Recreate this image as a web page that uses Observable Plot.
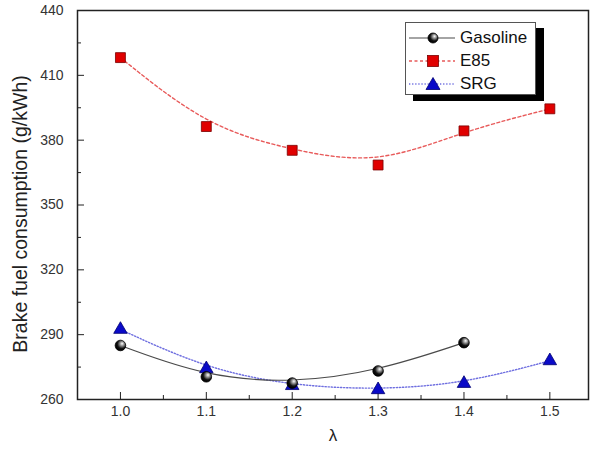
<!DOCTYPE html>
<html>
<head>
<meta charset="utf-8">
<script src="https://cdn.jsdelivr.net/npm/d3@7"></script>
<script src="https://cdn.jsdelivr.net/npm/@observablehq/plot@0.6"></script>
<style>
  html, body { margin: 0; padding: 0; background: #fff; }
  #wrap { position: relative; width: 591px; height: 453px; font-family: "Liberation Sans", Arial, sans-serif; }
  #legend {
    position: absolute; left: 405px; top: 22px; width: 129px; height: 71px;
    background: #fff; border: 1px solid #555; box-shadow: 8px 6px 0 #000;
  }
  .row { display: flex; align-items: center; height: 23px; margin-left: 3px; }
  .row:first-child { margin-top: 3px; }
  .row span { font-size: 17px; color: #111; margin-left: 3px; }
</style>
</head>
<body>
<div id="wrap">
  <div id="chart"></div>
  <div id="legend"></div>
</div>
<script>
// Brake fuel consumption vs. excess air ratio (lambda)
const lambda = [1.0, 1.1, 1.2, 1.3, 1.4, 1.5];
const gasoline = [285.0, 270.5, 267.6, 273.2, 286.3];
const e85 = [418.2, 386.3, 375.3, 368.5, 384.3, 394.5];
const srg = [292.4, 274.2, 266.4, 264.5, 267.4, 277.9];

const seriesNames = ["Gasoline", "E85", "SRG"];
const xMajor = [1.0, 1.1, 1.2, 1.3, 1.4, 1.5];
const xMinor = [1.05, 1.15, 1.25, 1.35, 1.45];
const yMajor = [260, 290, 320, 350, 380, 410, 440];
const yMinor = [275, 305, 335, 365, 395, 425];

const rows = (name, values) => values.map((v, i) => ({series: name, x: lambda[i], y: v}));
const gasRows = rows("Gasoline", gasoline);
const e85Rows = rows("E85", e85);
const srgRows = rows("SRG", srg);

const font = "Liberation Sans, Arial, sans-serif";

const chart = Plot.plot({
  width: 591,
  height: 453,
  marginLeft: 77,
  marginRight: 3,
  marginTop: 10,
  marginBottom: 54,
  style: {fontFamily: font, background: "#fff", overflow: "visible"},
  x: {domain: [0.95, 1.545]},
  y: {domain: [260, 440]},
  marks: [
    // inward major/minor ticks
    Plot.axisX({ticks: xMajor, tickSize: -7, text: null, label: null, stroke: "#222"}),
    Plot.axisX({ticks: xMinor, tickSize: -4, text: null, label: null, stroke: "#222"}),
    Plot.axisX({ticks: xMajor, tickSize: 0, tickPadding: 7, tickFormat: d3.format(".1f"),
      fontSize: 14, fill: "#333", label: null}),
    Plot.axisY({ticks: yMajor, tickSize: -7, text: null, label: null, stroke: "#222"}),
    Plot.axisY({ticks: yMinor, tickSize: -4, text: null, label: null, stroke: "#222"}),
    Plot.axisY({ticks: yMajor, tickSize: 0, tickPadding: 14, fontSize: 14, fill: "#333", label: null}),
    Plot.frame({stroke: "#222", strokeWidth: 1.5}),
    // axis titles
    Plot.text(["Brake fuel consumption (g/kWh)"], {frameAnchor: "left", dx: -57, dy: 9, rotate: -90,
      textAnchor: "middle", fontSize: 19.5, fill: "#222"}),
    Plot.text(["λ"], {frameAnchor: "bottom", dy: 41, fontSize: 17, fill: "#222"}),
    // smoothed curves
    Plot.line(e85Rows, {x: "x", y: "y", curve: "basis", stroke: "#e85a5a", strokeWidth: 1.4, strokeDasharray: "3,2.5"}),
    Plot.line(srgRows, {x: "x", y: "y", curve: "basis", stroke: "#6f6fe0", strokeWidth: 1.4, strokeDasharray: "1.3,1.8"}),
    Plot.line(gasRows, {x: "x", y: "y", curve: "basis", stroke: "#4a4a4a", strokeWidth: 1.2}),
    // markers
    Plot.dot(e85Rows, {x: "x", y: "y", symbol: "square", r: 5.6, fill: "#e00000", stroke: "#7a0000", strokeWidth: 0.8}),
    Plot.dot(srgRows, {x: "x", y: "y", symbol: "triangle", r: 5, fill: "#0a0ac8", stroke: "#000070", strokeWidth: 0.8}),
    Plot.dot(gasRows, {x: "x", y: "y", r: 5.3, fill: "url(#sphere)", stroke: "#000", strokeWidth: 0.8})
  ]
});

// radial gradient for the gasoline sphere markers
const svgNS = "http://www.w3.org/2000/svg";
function addSphere(svg, id) {
  const defs = document.createElementNS(svgNS, "defs");
  defs.innerHTML = `<radialGradient id="${id}" cx="0.62" cy="0.38" r="0.6" fx="0.66" fy="0.32">
      <stop offset="0" stop-color="#ffffff"/>
      <stop offset="0.35" stop-color="#8a8a8a"/>
      <stop offset="0.7" stop-color="#111"/>
      <stop offset="1" stop-color="#000"/>
    </radialGradient>`;
  svg.insertBefore(defs, svg.firstChild);
}
addSphere(chart, "sphere");
document.getElementById("chart").append(chart);

// legend
const swatches = {
  Gasoline: `<line x1="0" y1="8" x2="46" y2="8" stroke="#4a4a4a" stroke-width="1.2"/>
             <circle cx="24" cy="8" r="5" fill="url(#sphere)" stroke="#000" stroke-width="0.8"/>`,
  E85: `<line x1="0" y1="8" x2="46" y2="8" stroke="#e85a5a" stroke-width="1.4" stroke-dasharray="3,2.5"/>
        <rect x="18.5" y="2.5" width="11" height="11" fill="#e00000" stroke="#7a0000" stroke-width="0.8"/>`,
  SRG: `<line x1="0" y1="8" x2="46" y2="8" stroke="#6f6fe0" stroke-width="1.4" stroke-dasharray="1.3,1.8"/>
        <path d="M24,1.5 L31,13.5 L17,13.5 Z" fill="#0a0ac8" stroke="#000070" stroke-width="0.8"/>`
};
const legend = document.getElementById("legend");
seriesNames.forEach(name => {
  const row = document.createElement("div");
  row.className = "row";
  row.innerHTML = `<svg width="48" height="16">${swatches[name]}</svg><span>${name}</span>`;
  legend.append(row);
});
</script>
</body>
</html>
